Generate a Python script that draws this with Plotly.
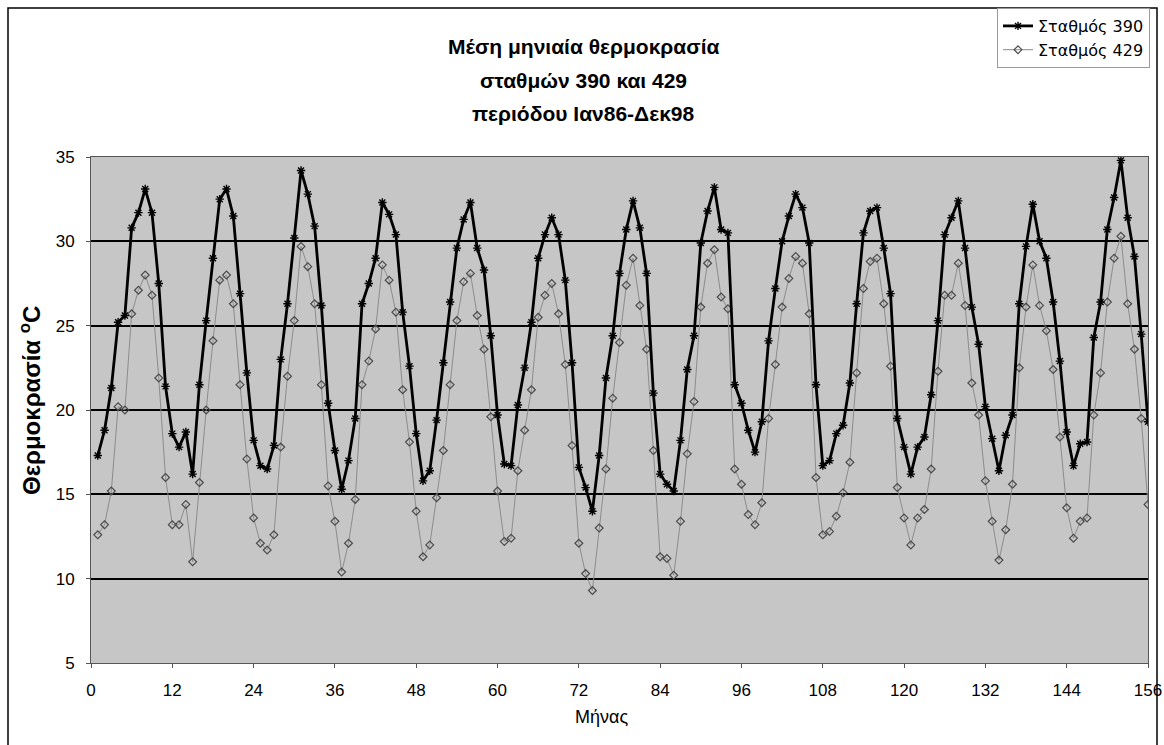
import plotly.graph_objects as go

months = list(range(1, 157))

station_390 = [
    17.3, 18.8, 21.3, 25.2, 25.6, 30.8, 31.7, 33.1, 31.7, 27.5, 21.4, 18.6,
    17.8, 18.7, 16.2, 21.5, 25.3, 29.0, 32.5, 33.1, 31.5, 26.9, 22.2, 18.2,
    16.7, 16.5, 17.9, 23.0, 26.3, 30.2, 34.2, 32.8, 30.9, 26.2, 20.4, 17.6,
    15.3, 17.0, 19.5, 26.3, 27.5, 29.0, 32.3, 31.6, 30.4, 25.8, 22.6, 18.6,
    15.8, 16.4, 19.4, 22.8, 26.4, 29.6, 31.3, 32.3, 29.6, 28.3, 24.4, 19.7,
    16.8, 16.7, 20.3, 22.5, 25.2, 29.0, 30.4, 31.4, 30.4, 27.7, 22.8, 16.6,
    15.4, 14.0, 17.3, 21.9, 24.4, 28.1, 30.7, 32.4, 30.8, 28.1, 21.0, 16.2,
    15.6, 15.2, 18.2, 22.4, 24.4, 29.9, 31.8, 33.2, 30.7, 30.5, 21.5, 20.4,
    18.8, 17.5, 19.3, 24.1, 27.2, 30.0, 31.5, 32.8, 32.0, 29.9, 21.5, 16.7,
    17.0, 18.6, 19.1, 21.6, 26.3, 30.5, 31.8, 32.0, 29.6, 26.9, 19.5, 17.8,
    16.2, 17.8, 18.4, 20.9, 25.3, 30.4, 31.4, 32.4, 29.6, 26.1, 23.9, 20.2,
    18.3, 16.4, 18.5, 19.7, 26.3, 29.7, 32.2, 30.0, 29.0, 26.4, 22.9, 18.7,
    16.7, 18.0, 18.1, 24.3, 26.4, 30.7, 32.6, 34.8, 31.4, 29.1, 24.5, 19.3,
]

station_429 = [
    12.6, 13.2, 15.2, 20.2, 20.0, 25.7, 27.1, 28.0, 26.8, 21.9, 16.0, 13.2,
    13.2, 14.4, 11.0, 15.7, 20.0, 24.1, 27.7, 28.0, 26.3, 21.5, 17.1, 13.6,
    12.1, 11.7, 12.6, 17.8, 22.0, 25.3, 29.7, 28.5, 26.3, 21.5, 15.5, 13.4,
    10.4, 12.1, 14.7, 21.5, 22.9, 24.8, 28.6, 27.7, 25.8, 21.2, 18.1, 14.0,
    11.3, 12.0, 14.8, 17.6, 21.5, 25.3, 27.6, 28.1, 25.6, 23.6, 19.6, 15.2,
    12.2, 12.4, 16.4, 18.8, 21.2, 25.5, 26.8, 27.5, 25.7, 22.7, 17.9, 12.1,
    10.3, 9.3, 13.0, 16.5, 20.7, 24.0, 27.4, 29.0, 26.2, 23.6, 17.6, 11.3,
    11.2, 10.2, 13.4, 17.4, 20.5, 26.1, 28.7, 29.5, 26.7, 26.0, 16.5, 15.6,
    13.8, 13.2, 14.5, 19.5, 22.7, 26.1, 27.8, 29.1, 28.7, 25.7, 16.0, 12.6,
    12.8, 13.7, 15.1, 16.9, 22.2, 27.2, 28.8, 29.0, 26.3, 22.6, 15.4, 13.6,
    12.0, 13.6, 14.1, 16.5, 22.3, 26.8, 26.8, 28.7, 26.2, 21.6, 19.7, 15.8,
    13.4, 11.1, 12.9, 15.6, 22.5, 26.1, 28.6, 26.2, 24.7, 22.4, 18.4, 14.2,
    12.4, 13.4, 13.6, 19.7, 22.2, 26.4, 29.0, 30.3, 26.3, 23.6, 19.5, 14.4,
]

x_ticks = list(range(0, 157, 12))
y_ticks = [5, 10, 15, 20, 25, 30, 35]
grid_values = [10, 15, 20, 25, 30]

series_names = ["Σταθμός 390", "Σταθμός 429"]
title_lines = ["Μέση μηνιαία θερμοκρασία", "σταθμών 390 και 429", "περιόδου Ιαν86-Δεκ98"]
x_title = "Μήνας"
y_title = "Θερμοκρασία <sup>o</sup>C"

FONT = "Liberation Sans, Arial, sans-serif"
LEGEND_FONT = "DejaVu Sans, Liberation Sans, sans-serif"

fig = go.Figure()

fig.add_trace(go.Scatter(
    x=months, y=station_429, name=series_names[1], mode="lines+markers",
    line=dict(color="#8c8c8c", width=1),
    marker=dict(symbol="diamond-open", size=6, color="#4a4a4a", line=dict(width=1.2)),
))
fig.add_trace(go.Scatter(
    x=months, y=station_390, name=series_names[0], mode="lines+markers",
    line=dict(color="black", width=2.8),
    marker=dict(symbol="asterisk-open", size=7, color="black", line=dict(width=1.4)),
))

# invisible helper trace on the overlay axis that carries the grid lines
fig.add_trace(go.Scatter(x=[months[0]], y=[grid_values[0]], yaxis="y2",
                         mode="markers", marker=dict(opacity=0),
                         showlegend=False, hoverinfo="skip"))

plot_left, plot_right, plot_top, plot_bottom = 91, 1148, 157, 663
W, H = 1164, 745
pw = plot_right - plot_left
ph = plot_bottom - plot_top


def px(xp):
    return (xp - plot_left) / pw


def py(yp):
    return (plot_bottom - yp) / ph


annotations = []
for txt, ypix in zip(title_lines, [47, 80, 113]):
    annotations.append(dict(
        text="<b>" + txt + "</b>", xref="paper", yref="paper",
        x=px(583), y=py(ypix), xanchor="center", yanchor="middle",
        showarrow=False, font=dict(family=FONT, size=21, color="black"),
    ))
annotations.append(dict(
    text=x_title, xref="paper", yref="paper", x=px(601), y=py(717),
    xanchor="center", yanchor="middle", showarrow=False,
    font=dict(family=FONT, size=18, color="black"),
))
annotations.append(dict(
    text="<b>" + y_title + "</b>", xref="paper", yref="paper", x=px(30), y=py(401),
    xanchor="center", yanchor="middle", showarrow=False, textangle=-90,
    font=dict(family=FONT, size=24, color="black"),
))

fig.update_layout(
    width=W, height=H,
    margin=dict(l=plot_left, r=W - plot_right, t=plot_top, b=H - plot_bottom, autoexpand=False),
    paper_bgcolor="white",
    plot_bgcolor="#c6c6c6",
    font=dict(family=FONT, color="black", size=17),
    showlegend=True,
    legend=dict(
        x=px(1150), y=py(8), xanchor="right", yanchor="top",
        traceorder="reversed", bgcolor="white", bordercolor="#9a9a9a", borderwidth=1,
        font=dict(family=LEGEND_FONT, size=16, color="black"),
        tracegroupgap=0, itemwidth=30,
    ),
    xaxis=dict(
        range=[0, 156], tickvals=x_ticks, ticktext=[str(v) for v in x_ticks],
        showgrid=False, zeroline=False, showline=True, linecolor="#555555", linewidth=1,
        mirror=True, ticks="outside", ticklen=4, tickcolor="#555555",
        ticklabelstandoff=8, automargin=False,
        tickfont=dict(family=FONT, size=17, color="black"),
    ),
    yaxis=dict(
        range=[5, 35], tickvals=y_ticks, ticktext=[str(v) for v in y_ticks],
        showgrid=False, zeroline=False, showline=True, linecolor="#555555", linewidth=1,
        mirror=True, ticks="outside", ticklen=4, tickcolor="#555555",
        ticklabelstandoff=8, automargin=False,
        tickfont=dict(family=FONT, size=17, color="black"),
    ),
    yaxis2=dict(
        overlaying="y", range=[5, 35], tickvals=grid_values, showgrid=True,
        gridcolor="black", gridwidth=2, showticklabels=False, ticks="",
        showline=False, zeroline=False, automargin=False,
    ),
    annotations=annotations,
    shapes=[dict(
        type="rect", xref="paper", yref="paper",
        x0=px(8), x1=px(1157), y0=py(760), y1=py(8),
        line=dict(color="black", width=1.5), fillcolor="rgba(0,0,0,0)", layer="below",
    )],
)

fig.write_html(
    "out.html",
    config={"displayModeBar": False},
    post_script="document.body.style.margin='0';document.body.style.overflow='hidden';",
)
